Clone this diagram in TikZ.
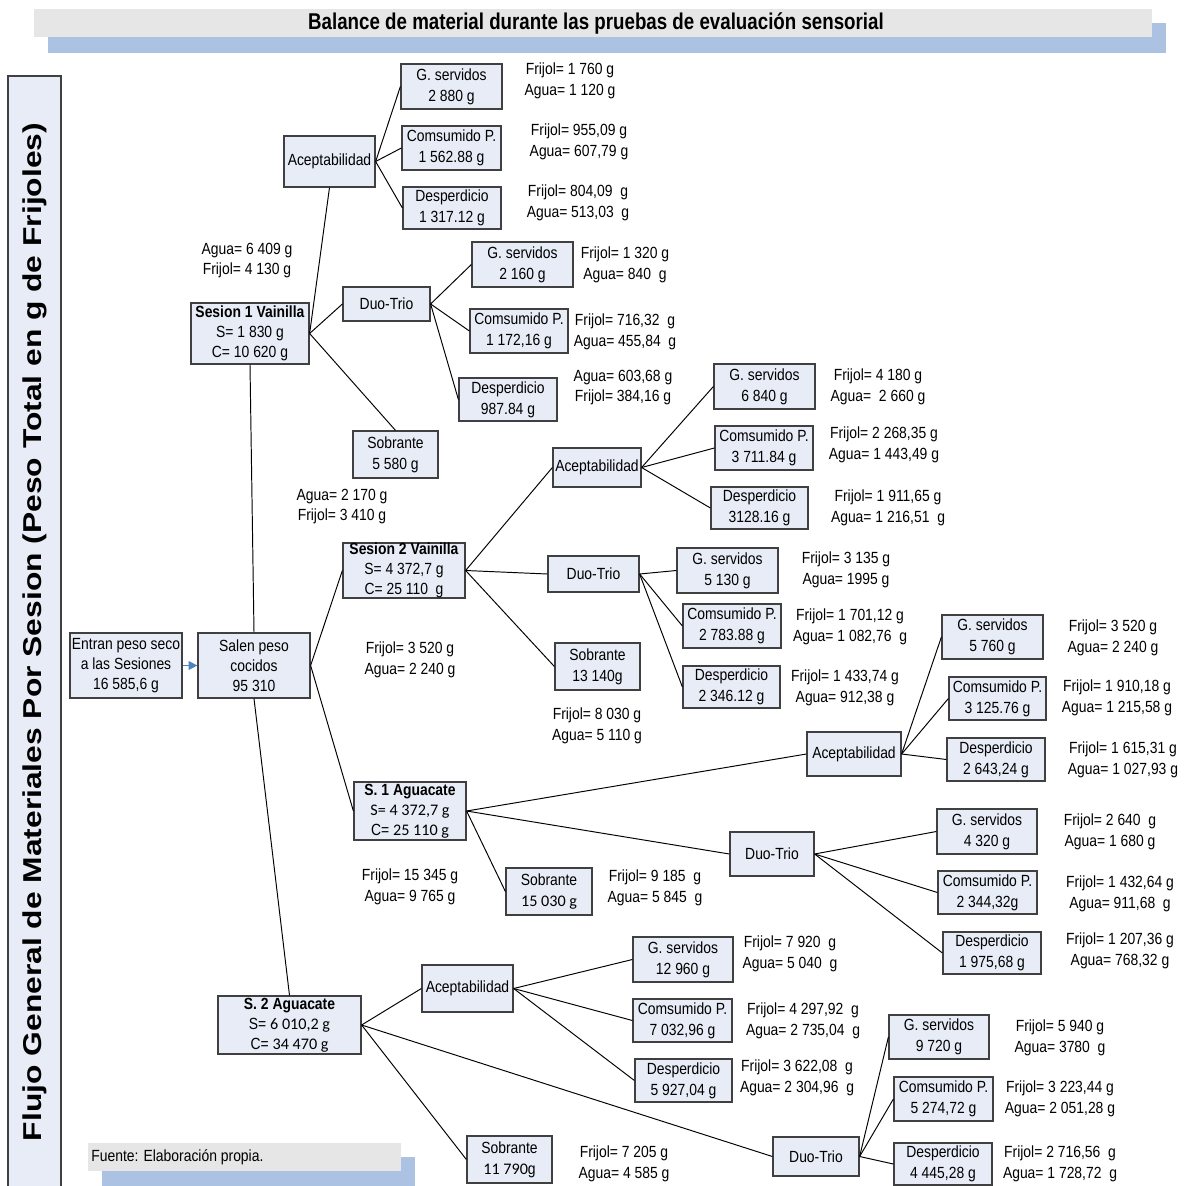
\documentclass[tikz,border=0pt]{standalone}
\usepackage{fontspec}
\setmainfont{Liberation Sans}[FakeStretch=0.86]
\newfontfamily\titfont{Liberation Sans}[FakeStretch=0.82]
\newfontfamily\verfont{Liberation Sans}[FakeStretch=1.23]
\newfontfamily\calfont{Carlito}
\usetikzlibrary{arrows.meta}

\definecolor{cajafondo}{RGB}{231,236,247}
\definecolor{cajaborde}{RGB}{64,64,64}
\definecolor{barragris}{RGB}{230,230,230}
\definecolor{barraazul}{RGB}{172,194,226}
\definecolor{flecha}{RGB}{79,129,189}

\tikzset{
  caja/.style 2 args={draw=cajaborde, fill=cajafondo, line width=0.7pt, inner sep=0pt, align=center,
    minimum width=#1*0.02cm, minimum height=#2*0.02cm, font=\fontsize{9.2}{11.9}\selectfont},
  tres/.style={font=\fontsize{9.2}{11.3}\selectfont},
  dato/.style={inner sep=0pt, align=center, font=\fontsize{9.2}{11.9}\selectfont},
  rama/.style={line width=0.55pt}
}

\begin{document}
\begin{tikzpicture}[x=0.02cm, y=-0.02cm]
    \useasboundingbox (0,0) rectangle (1190,1186);

    \fill[barraazul] (48,23) rectangle (1166,53);
    \fill[barragris] (34,9) rectangle (1152,37);
    \node[font=\titfont\bfseries\fontsize{13}{15}\selectfont] (titulo) at (596,23) {Balance de material durante las pruebas de evaluación sensorial};

    \filldraw[draw=cajaborde, fill=cajafondo, line width=0.7pt] (8,76) rectangle (61,1190);
    \node[rotate=90, font=\verfont\bfseries\fontsize{14.7}{17}\selectfont] (flujo) at (35,632) {Flujo General de Materiales Por Sesion (Peso Total en g de Frijoles)};

    \fill[barraazul] (102,1157) rectangle (415,1190);
    \fill[barragris] (88,1143) rectangle (401,1171);
    \node[dato, anchor=west] (fuente) at (91,1157) {Fuente: Elaboración propia.};

    % entrada y sesiones
    \node[caja={112}{65}, tres] (entran) at (126,665.5) {Entran peso seco\\a las Sesiones\\16 585,6 g};
    \node[caja={112}{65}, tres] (salen) at (254,665.5) {Salen peso\\cocidos\\95 310};
    \node[caja={118}{61}, tres] (ses1) at (250,333.5) {\textbf{Sesion 1 Vainilla}\\S= 1 830 g\\C= 10 620 g};
    \node[caja={122}{55}, tres] (ses2) at (404,570.5) {\textbf{Sesion 2 Vainilla}\\S= 4 372,7 g\\C= 25 110~~g};
    \node[caja={112}{58}, tres] (agu1) at (410,811) {\textbf{S. 1 Aguacate}\\{\calfont S= 4 372,7 g}\\C= {\calfont 25 110 g}};
    \node[caja={143}{58}, tres] (agu2) at (289.5,1025) {\textbf{S. 2 Aguacate}\\S= {\calfont 6 010,2 g}\\C= {\calfont 34 470 g}};

    \draw[flecha, line width=0.7pt, -{Triangle[length=5pt, width=5pt]}] (entran) -- (salen);

    % sesion 1 vainilla
    \node[caja={91}{51}] (acep1) at (329.5,161.5) {Aceptabilidad};
    \node[caja={87}{34}] (duo1) at (386.5,304) {Duo-Trio};
    \node[caja={85}{47}] (sob1) at (395.5,454.5) {Sobrante\\5 580 g};
    \node[caja={101}{45}] (gs1) at (451.5,86.5) {G. servidos\\2 880 g};
    \node[caja={99}{44}] (cp1) at (451.5,148) {Comsumido P.\\1 562.88 g};
    \node[caja={98}{42}] (de1) at (452,208) {Desperdicio\\1 317.12 g};
    \node[caja={101}{45}] (gs2) at (522.5,264.5) {G. servidos\\2 160 g};
    \node[caja={98}{44}] (cp2) at (519,331) {Comsumido P.\\1 172,16 g};
    \node[caja={98}{43}] (de2) at (508,399.5) {Desperdicio\\987.84 g};

    % sesion 2 vainilla
    \node[caja={88}{39}] (acep2) at (597,467.5) {Aceptabilidad};
    \node[caja={91}{36}] (duo2) at (593.5,574) {Duo-Trio};
    \node[caja={85}{47}] (sob2) at (597.5,666.5) {Sobrante\\13 140g};
    \node[caja={101}{45}] (gs3) at (764.5,386.5) {G. servidos\\6 840 g};
    \node[caja={98}{44}] (cp3) at (764,448) {Comsumido P.\\3 711.84 g};
    \node[caja={97}{42}] (de3) at (759.5,508) {Desperdicio\\3128.16 g};
    \node[caja={101}{45}] (gs4) at (727.5,570.5) {G. servidos\\5 130 g};
    \node[caja={98}{44}] (cp4) at (732,626) {Comsumido P.\\2 783.88 g};
    \node[caja={97}{42}] (de4) at (731.5,687) {Desperdicio\\2 346.12 g};

    % s. 1 aguacate
    \node[caja={94}{44}] (acep3) at (854,754) {Aceptabilidad};
    \node[caja={84}{44}] (duo3) at (772,854) {Duo-Trio};
    \node[caja={86}{47}] (sob3) at (549,891.5) {Sobrante\\{\calfont 15 030 g}};
    \node[caja={101}{44}] (gs5) at (992.5,637) {G. servidos\\5 760 g};
    \node[caja={97}{43}] (cp5) at (997.5,698.5) {Comsumido P.\\3 125.76 g};
    \node[caja={98}{43}] (de5) at (996,759.5) {Desperdicio\\2 643,24 g};
    \node[caja={100}{45}] (gs6) at (987,831.5) {G. servidos\\4 320 g};
    \node[caja={99}{43}] (cp6) at (987.5,892.5) {Comsumido P.\\2 344,32g};
    \node[caja={98}{42}] (de6) at (992,953) {Desperdicio\\1 975,68 g};

    % s. 2 aguacate
    \node[caja={91}{47}] (acep4) at (467.5,988.5) {Aceptabilidad};
    \node[caja={86}{39}] (duo4) at (816,1156.5) {Duo-Trio};
    \node[caja={85}{47}] (sob4) at (509.5,1159.5) {Sobrante\\{\calfont 11 790}g};
    \node[caja={100}{45}] (gs7) at (683,959.5) {G. servidos\\12 960 g};
    \node[caja={99}{43}] (cp7) at (682.5,1020.5) {Comsumido P.\\7 032,96 g};
    \node[caja={97}{43}] (de7) at (683.5,1080.5) {Desperdicio\\5 927,04 g};
    \node[caja={100}{44}] (gs8) at (939,1037) {G. servidos\\9 720 g};
    \node[caja={99}{44}] (cp8) at (943.5,1099) {Comsumido P.\\5 274,72 g};
    \node[caja={98}{42}] (de8) at (943,1164) {Desperdicio\\4 445,28 g};

    \draw[rama] (salen.north) -- (ses1.south);
    \draw[rama] (salen.south) -- (agu2.north);
    \draw[rama] (ses1.east) -- (acep1.south);
    \draw[rama] (ses1.east) -- (sob1.north);
    \foreach \a/\b in {salen/ses2, salen/agu1, ses1/duo1,
        acep1/gs1, acep1/cp1, acep1/de1, duo1/gs2, duo1/cp2, duo1/de2,
        ses2/acep2, ses2/duo2, ses2/sob2, acep2/gs3, acep2/cp3, acep2/de3, duo2/gs4, duo2/cp4, duo2/de4,
        agu1/acep3, agu1/duo3, agu1/sob3, acep3/gs5, acep3/cp5, acep3/de5, duo3/gs6, duo3/cp6, duo3/de6,
        agu2/acep4, agu2/duo4, agu2/sob4, acep4/gs7, acep4/cp7, acep4/de7, duo4/gs8, duo4/cp8, duo4/de8}
        \draw[rama] (\a.east) -- (\b.west);

    % cantidades
    \node[dato] (dses1) at (247,260.5) {Agua= 6 409 g\\Frijol= 4 130 g};
    \node[dato] (dgs1) at (570,80.5) {Frijol= 1 760 g\\Agua= 1 120 g};
    \node[dato] (dcp1) at (579,141.5) {Frijol= 955,09 g\\Agua= 607,79 g};
    \node[dato] (dde1) at (578,202.5) {Frijol= 804,09~~g\\Agua= 513,03~~g};
    \node[dato] (dgs2) at (625,264.5) {Frijol= 1 320 g\\Agua= 840~~g};
    \node[dato] (dcp2) at (625,331.5) {Frijol= 716,32~~g\\Agua= 455,84~~g};
    \node[dato] (dde2) at (623,387.5) {Agua= 603,68 g\\Frijol= 384,16 g};
    \node[dato] (dsob1) at (342,506.5) {Agua= 2 170 g\\Frijol= 3 410 g};

    \node[dato] (dses2) at (410,659.5) {Frijol= 3 520 g\\Agua= 2 240 g};
    \node[dato] (dsob2) at (597,725.5) {Frijol= 8 030 g\\Agua= 5 110 g};
    \node[dato] (dgs3) at (878,386.5) {Frijol= 4 180 g\\Agua=~~2 660 g};
    \node[dato] (dcp3) at (884,444.5) {Frijol= 2 268,35 g\\Agua= 1 443,49 g};
    \node[dato] (dde3) at (888,507.5) {Frijol= 1 911,65 g\\Agua= 1 216,51~~g};
    \node[dato] (dgs4) at (846,569.5) {Frijol= 3 135 g\\Agua= 1995 g};
    \node[dato] (dcp4) at (850,626.5) {Frijol= 1 701,12 g\\Agua= 1 082,76~~g};
    \node[dato] (dde4) at (845,687.5) {Frijol= 1 433,74 g\\Agua= 912,38 g};

    \node[dato] (dagu1) at (410,886.5) {Frijol= 15 345 g\\Agua= 9 765 g};
    \node[dato] (dsob3) at (655,887.5) {Frijol= 9 185~~g\\Agua= 5 845~~g};
    \node[dato] (dgs5) at (1113,637.5) {Frijol= 3 520 g\\Agua= 2 240 g};
    \node[dato] (dcp5) at (1117,697.5) {Frijol= 1 910,18 g\\Agua= 1 215,58 g};
    \node[dato] (dde5) at (1123,759.5) {Frijol= 1 615,31 g\\Agua= 1 027,93 g};
    \node[dato] (dgs6) at (1110,831.5) {Frijol= 2 640~~g\\Agua= 1 680 g};
    \node[dato] (dcp6) at (1120,893.5) {Frijol= 1 432,64 g\\Agua= 911,68~~g};
    \node[dato] (dde6) at (1120,950.5) {Frijol= 1 207,36 g\\Agua= 768,32 g};

    \node[dato] (dgs7) at (790,953.5) {Frijol= 7 920~~g\\Agua= 5 040~~g};
    \node[dato] (dcp7) at (803,1020.5) {Frijol= 4 297,92~~g\\Agua= 2 735,04~~g};
    \node[dato] (dde7) at (797,1077.5) {Frijol= 3 622,08~~g\\Agua= 2 304,96~~g};
    \node[dato] (dsob4) at (624,1163.5) {Frijol= 7 205 g\\Agua= 4 585 g};
    \node[dato] (dgs8) at (1060,1037.5) {Frijol= 5 940 g\\Agua= 3780~~g};
    \node[dato] (dcp8) at (1060,1098.5) {Frijol= 3 223,44 g\\Agua= 2 051,28 g};
    \node[dato] (dde8) at (1060,1163.5) {Frijol= 2 716,56~~g\\Agua= 1 728,72~~g};

\end{tikzpicture}
\end{document}
